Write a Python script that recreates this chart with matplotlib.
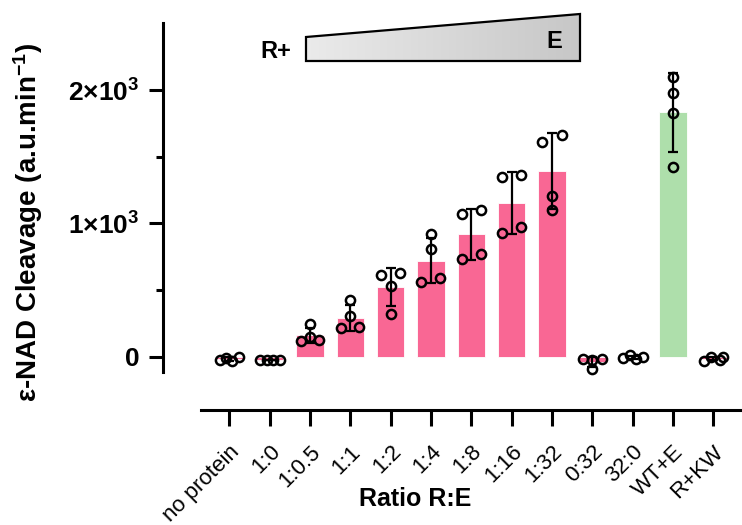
import numpy as np
import matplotlib
matplotlib.use('Agg')
import matplotlib.pyplot as plt
from matplotlib.patches import Polygon

plt.rcParams['font.family'] = ['Liberation Sans', 'DejaVu Sans']
plt.rcParams['mathtext.fontset'] = 'custom'
plt.rcParams['mathtext.rm'] = 'Liberation Sans:bold'
plt.rcParams['mathtext.bf'] = 'Liberation Sans:bold'
plt.rcParams['mathtext.default'] = 'bf'

# ------------------------------
# Data
# ------------------------------
groups = ['no protein', '1:0', '1:0.5', '1:1', '1:2', '1:4', '1:8',
          '1:16', '1:32', '0:32', '32:0', 'WT+E', 'R+KW']

replicates = [
    [-25, -8, -30, -3],
    [-28, -22, -25, -22],
    [120, 145, 128, 245],
    [213, 223, 305, 423],
    [533, 613, 628, 318],
    [563, 593, 808, 920],
    [733, 770, 1070, 1098],
    [930, 973, 1346, 1365],
    [1100, 1205, 1613, 1663],
    [-18, -25, -18, -95],
    [-12, 10, -17, 0],
    [2100, 1980, 1826, 1421],
    [-30, -5, -22, -5],
]

# horizontal spread of the scatter points (category units)
x_jitter = [
    [-0.23, -0.07, 0.07, 0.25],
    [-0.24, -0.07, 0.09, 0.26],
    [-0.22, 0.0, 0.22, 0.0],
    [-0.22, 0.22, 0.0, 0.0],
    [0.0, -0.24, 0.24, 0.0],
    [-0.25, 0.23, 0.0, 0.0],
    [-0.24, 0.24, -0.24, 0.24],
    [-0.24, 0.24, -0.24, 0.24],
    [0.0, 0.0, -0.24, 0.24],
    [-0.24, 0.0, 0.24, 0.0],
    [-0.24, -0.07, 0.08, 0.26],
    [0.0, 0.0, 0.0, 0.0],
    [-0.23, -0.06, 0.17, 0.25],
]

pink = '#F96794'
green = '#AEDFAB'
bar_colors = [green if g == 'WT+E' else pink for g in groups]

means = np.array([np.mean(r) for r in replicates])
sds = np.array([np.std(r, ddof=1) for r in replicates])
x = np.arange(len(groups))

# ------------------------------
# Figure
# ------------------------------
W, H = 742, 525
fig = plt.figure(figsize=(W / 100, H / 100), dpi=100)
ax = fig.add_axes([163 / W, (H - 410) / H, (W - 163) / W, (410 - 23.4) / H])

ax.bar(x, means, width=0.68, color=bar_colors, edgecolor='white',
       linewidth=0.6, zorder=1)
ax.errorbar(x, means, yerr=sds, fmt='none', ecolor='black', elinewidth=1.6,
            capsize=3.5, capthick=1.6, zorder=2)
for i, (vals, jit) in enumerate(zip(replicates, x_jitter)):
    ax.plot(i + np.array(jit), vals, 'o', ms=6.6, mfc='none', mec='black',
            mew=1.8, zorder=3, clip_on=False)

ax.set_xlim(-1.644, 12.713)
ax.set_ylim(-400, 2500)

for s in ['top', 'right']:
    ax.spines[s].set_visible(False)
ax.spines['left'].set_linewidth(2.2)
ax.spines['bottom'].set_linewidth(2.2)
ax.spines['left'].set_bounds(-112, 2500)
ax.spines['bottom'].set_bounds(-0.7, 12.713)

ax.set_yticks([0, 1000, 2000])
ax.set_yticklabels(['0', r'1×10$^{3}$', r'2×10$^{3}$'],
                   fontsize=19, fontweight='bold')
ax.set_yticks([500, 1500], minor=True)
ax.tick_params(axis='y', which='major', length=10, width=2.2, pad=7)
ax.tick_params(axis='y', which='minor', length=5, width=2.2)

ax.set_xticks(x)
ax.set_xticklabels(groups, rotation=45, ha='right', rotation_mode='anchor',
                   fontsize=16)
ax.tick_params(axis='x', length=11.5, width=2.2, pad=11)

fig.text(415 / W, 1 - 499 / H, 'Ratio R:E', ha='center', va='center',
         fontsize=18, fontweight='bold')
fig.text(28 / W, 1 - 222 / H, r'ε-NAD Cleavage (a.u.min$^{-1}$)',
         ha='center', va='center', rotation=90, fontsize=20,
         fontweight='bold')

# ------------------------------
# Ratio wedge on top
# ------------------------------
ov = fig.add_axes([0, 0, 1, 1], zorder=5)
ov.set_xlim(0, W)
ov.set_ylim(H, 0)
ov.axis('off')
ov.patch.set_alpha(0)
wedge = [(306, 61), (306, 37), (580, 14), (580, 61)]
grad = np.linspace(0.92, 0.78, 256).reshape(1, -1)
img = ov.imshow(np.dstack([grad, grad, grad]), extent=(306, 580, 61, 14),
                aspect='auto', zorder=1)
poly = Polygon(wedge, closed=True, facecolor='none', edgecolor='black',
               linewidth=1.6, zorder=2)
ov.add_patch(poly)
img.set_clip_path(poly)
ov.text(276, 51, 'R+', ha='center', va='center', fontsize=17,
        fontweight='bold')
ov.text(554, 42, 'E', ha='center', va='center', fontsize=17,
        fontweight='bold')

fig.savefig('out.png', dpi=100)
